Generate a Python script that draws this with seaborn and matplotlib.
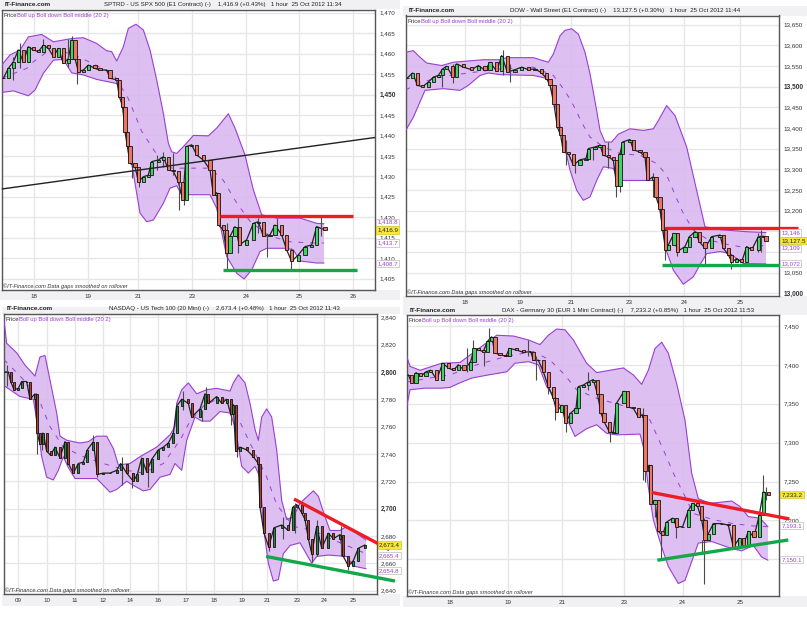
import matplotlib
matplotlib.use("Agg")
import matplotlib.pyplot as plt
from matplotlib.patches import Rectangle
import pandas as pd
import seaborn as sns

# x values are bar positions on each chart's own time axis

# SPX 500
spx_upper_x = [5, 30, 60, 85, 125, 160, 215, 250, 290, 320, 335, 350, 370, 385, 408, 430, 450, 470, 490, 505, 515, 530, 555, 580, 625, 650, 685, 705, 735, 760, 785, 830, 900, 950, 972]
spx_upper = [1457.2, 1459.7, 1460.9, 1464.1, 1464.7, 1462.9, 1463.7, 1463.9, 1462.5, 1460.7, 1460.5, 1458.2, 1461.7, 1466.2, 1467.2, 1465.8, 1460.9, 1453.6, 1445.4, 1438.1, 1436.0, 1435.6, 1437.7, 1440.0, 1439.9, 1441.8, 1445.3, 1441.8, 1435.2, 1426.7, 1420.6, 1419.8, 1419.8, 1418.5, 1418.4]
spx_lower_x = [5, 40, 85, 105, 130, 160, 190, 215, 250, 290, 350, 360, 380, 400, 420, 440, 460, 490, 510, 530, 545, 580, 630, 650, 680, 710, 732, 755, 780, 800, 860, 880, 900, 950, 972]
spx_lower = [1450.5, 1450.9, 1449.7, 1451.1, 1455.2, 1458.4, 1458.6, 1455.3, 1454.8, 1453.7, 1452.7, 1451.1, 1440.5, 1430.7, 1421.0, 1418.9, 1419.3, 1423.4, 1427.1, 1427.7, 1425.5, 1425.5, 1425.5, 1422.2, 1410.4, 1406.3, 1404.9, 1407.1, 1411.6, 1412.4, 1412.4, 1412.0, 1409.3, 1408.8, 1408.8]
spx_mid_x = [5, 80, 100, 150, 215, 280, 340, 385, 425, 465, 515, 580, 630, 670, 710, 750, 805, 870, 935, 972]
spx_mid = [1454, 1456.4, 1458, 1461, 1460, 1457.5, 1455, 1449, 1441, 1436, 1432, 1432, 1432, 1429, 1423.5, 1419, 1415.5, 1414, 1413.7, 1413.7]
spx_bar_x = [10, 25, 40, 55, 70, 85, 100, 115, 130, 145, 160, 175, 190, 205, 215, 225, 235, 250, 265, 285, 300, 320, 330, 350, 358, 368, 375, 382, 390, 405, 415, 430, 445, 455, 475, 490, 505, 520, 535, 548, 560, 575, 590, 610, 630, 640, 650, 655, 670, 680, 690, 705, 718, 740, 760, 775, 790, 810, 825, 845, 860, 875, 895, 915, 935, 950, 975]
spx_close = [1454.0, 1456.4, 1458.0, 1460.9, 1458.0, 1461.7, 1460.9, 1460.5, 1462.1, 1461.3, 1459.3, 1461.3, 1457.6, 1458.8, 1463.3, 1458.8, 1455.6, 1456.0, 1457.2, 1456.4, 1456.0, 1456.0, 1454.0, 1453.6, 1449.5, 1447.0, 1440.9, 1437.3, 1433.2, 1432.4, 1428.7, 1429.9, 1430.3, 1433.6, 1434.0, 1434.8, 1431.6, 1431.2, 1428.7, 1424.2, 1437.3, 1437.7, 1435.2, 1434.0, 1431.6, 1425.5, 1426.0, 1418.1, 1416.9, 1411.2, 1415.3, 1417.7, 1413.2, 1414.5, 1418.5, 1418.9, 1415.3, 1415.7, 1418.1, 1415.7, 1412.0, 1409.2, 1410.8, 1412.8, 1413.2, 1417.7, 1416.9]
spx_wick_x = [38, 60, 130, 205, 215, 232, 355, 362, 395, 418, 470, 490, 518, 538, 552, 680, 715, 775, 800, 830, 873, 963]
spx_wick_hi = [1459.3, 1462.5, 1463.7, 1463.7, 1464.3, 1456.8, 1454, 1450.3, 1434, 1430.7, 1435.2, 1436, 1435.6, 1430.7, 1429.1, 1418.5, 1420.2, 1419.8, 1416.1, 1419.8, 1412.4, 1420]
spx_wick_lo = [1453.6, 1456.4, 1461.7, 1456.8, 1458.8, 1452.7, 1449.9, 1447, 1429.5, 1427.5, 1431.6, 1432.4, 1430.3, 1421.8, 1423, 1407.1, 1411.2, 1416.1, 1410.2, 1416.1, 1407.3, 1415.3]
spx_ticks_y = [1405, 1410, 1415, 1420, 1425, 1430, 1435, 1440, 1445, 1450, 1455, 1460, 1465, 1470]
spx_ticks_x = [103, 263, 415, 577, 738, 898, 1060]
spx_days = ["18", "19", "21", "23", "24", "25", "26"]

# Dow
dow_upper_x = [17, 40, 60, 80, 125, 160, 190, 250, 300, 320, 400, 445, 460, 480, 495, 515, 535, 555, 570, 590, 600, 615, 635, 655, 690, 730, 760, 775, 800, 825, 860, 890, 915, 960, 1040, 1098]
dow_upper = [13583, 13587, 13571, 13557, 13551, 13559, 13561, 13565, 13565, 13570, 13570, 13559, 13579, 13623, 13636, 13640, 13627, 13583, 13531, 13442, 13394, 13366, 13366, 13385, 13398, 13394, 13398, 13418, 13454, 13430, 13354, 13249, 13161, 13154, 13149, 13147]
dow_lower_x = [17, 40, 75, 130, 180, 205, 240, 265, 300, 400, 445, 460, 490, 510, 530, 550, 570, 590, 610, 640, 655, 765, 790, 800, 820, 850, 880, 905, 920, 960, 990, 1030, 1098]
dow_lower = [13394, 13426, 13491, 13495, 13491, 13503, 13527, 13533, 13529, 13527, 13519, 13475, 13370, 13298, 13249, 13225, 13233, 13273, 13306, 13302, 13273, 13273, 13149, 13101, 13056, 13022, 13040, 13076, 13096, 13101, 13096, 13072, 13071]
dow_mid_x = [17, 40, 100, 150, 300, 400, 460, 490, 515, 550, 570, 610, 660, 720, 770, 800, 830, 850, 880, 925, 990, 1050, 1098]
dow_mid = [13491, 13503, 13519, 13527, 13543, 13547, 13527, 13495, 13463, 13406, 13378, 13354, 13338, 13334, 13314, 13286, 13229, 13193, 13153, 13129, 13117, 13109, 13117]
dow_bar_x = [22, 38, 52, 68, 85, 100, 115, 128, 140, 158, 170, 190, 215, 235, 255, 270, 290, 305, 322, 345, 365, 385, 405, 425, 440, 450, 462, 472, 482, 490, 505, 520, 540, 558, 565, 585, 600, 610, 625, 640, 650, 660, 668, 690, 700, 720, 735, 742, 760, 768, 780, 788, 797, 805, 822, 832, 855, 868, 885, 898, 915, 935, 960, 970, 985, 995, 1010, 1025, 1040, 1055, 1075, 1090, 1098]
dow_close = [13521, 13533, 13503, 13500, 13511, 13523, 13527, 13543, 13549, 13524, 13555, 13547, 13541, 13551, 13539, 13559, 13537, 13575, 13535, 13541, 13547, 13541, 13543, 13533, 13519, 13503, 13457, 13402, 13382, 13342, 13338, 13310, 13323, 13326, 13350, 13354, 13358, 13334, 13330, 13322, 13259, 13338, 13366, 13372, 13347, 13342, 13330, 13273, 13282, 13233, 13205, 13153, 13105, 13117, 13145, 13101, 13113, 13137, 13149, 13125, 13109, 13137, 13141, 13109, 13093, 13076, 13084, 13076, 13113, 13105, 13137, 13138, 13127.5]
dow_wick_x = [310, 330, 160, 125, 497, 525, 625, 648, 660, 795, 832, 915, 992, 1083, 1075, 580, 760]
dow_wick_hi = [13589, 13555, 13555, 13543, 13370, 13330, 13366, 13306, 13338, 13161, 13145, 13121, 13096, 13153, 13145, 13354, 13290]
dow_wick_lo = [13527, 13511, 13508, 13500, 13310, 13292, 13302, 13233, 13245, 13080, 13090, 13072, 13060, 13101, 13101, 13322, 13233]
dow_ticks_y = [13000, 13050, 13100, 13150, 13200, 13250, 13300, 13350, 13400, 13450, 13500, 13550, 13600, 13650]
dow_ticks_x = [194, 360, 513, 688, 853, 1020]
dow_days = ["18", "19", "21", "23", "24", "25"]

# Nasdaq
ndq_upper_x = [12, 20, 50, 75, 105, 120, 135, 150, 170, 180, 200, 240, 265, 290, 320, 340, 355, 390, 420, 470, 510, 525, 530, 545, 565, 590, 620, 650, 690, 700, 715, 735, 750, 765, 775, 785, 800, 815, 830, 845, 860, 880, 900, 940, 955, 975, 990, 1020, 1040, 1098]
ndq_upper = [2838, 2821, 2814, 2805, 2797, 2811, 2812, 2794, 2770, 2753, 2750, 2748, 2749, 2753, 2753, 2744, 2732, 2733, 2738, 2745, 2754, 2760, 2777, 2787, 2792, 2784, 2787, 2788, 2786, 2792, 2798, 2792, 2777, 2758, 2750, 2767, 2773, 2767, 2743, 2706, 2692, 2694, 2704, 2713, 2709, 2694, 2684, 2684, 2687, 2677]
ndq_lower_x = [12, 30, 60, 100, 112, 125, 140, 160, 175, 190, 205, 225, 290, 310, 330, 350, 380, 400, 430, 450, 480, 510, 525, 545, 560, 585, 605, 630, 660, 690, 705, 725, 745, 765, 780, 790, 805, 820, 835, 850, 870, 900, 935, 950, 985, 1040, 1060, 1098]
ndq_lower = [2790, 2787, 2782, 2780, 2762, 2738, 2723, 2721, 2728, 2738, 2730, 2722, 2722, 2717, 2712, 2714, 2720, 2717, 2713, 2714, 2723, 2725, 2733, 2728, 2750, 2767, 2764, 2764, 2771, 2770, 2760, 2731, 2726, 2731, 2723, 2687, 2660, 2647, 2648, 2667, 2673, 2675, 2660, 2665, 2666, 2665, 2658, 2656]
ndq_mid_x = [12, 60, 110, 150, 190, 250, 310, 380, 430, 490, 540, 570, 610, 650, 690, 730, 770, 800, 830, 880, 940, 1000, 1050, 1098]
ndq_mid = [2809, 2797, 2784, 2760, 2745, 2738, 2733, 2728, 2726, 2733, 2750, 2764, 2775, 2780, 2780, 2758, 2738, 2723, 2703, 2687, 2684, 2677, 2672, 2667]
ndq_bar_x = [15, 25, 32, 42, 55, 65, 80, 90, 105, 112, 120, 130, 140, 152, 165, 180, 195, 205, 220, 235, 250, 262, 280, 292, 310, 330, 350, 362, 380, 400, 412, 425, 440, 455, 475, 490, 505, 520, 530, 545, 565, 575, 600, 615, 625, 650, 665, 680, 692, 700, 707, 720, 740, 760, 775, 780, 792, 806, 822, 845, 865, 878, 890, 905, 915, 925, 935, 950, 965, 985, 1000, 1020, 1030, 1045, 1060, 1075, 1095]
ndq_close = [2800, 2800, 2793, 2787, 2788, 2793, 2793, 2780, 2784, 2755, 2747, 2755, 2742, 2739, 2745, 2737, 2749, 2733, 2726, 2733, 2734, 2743, 2749, 2725, 2726, 2726, 2728, 2733, 2726, 2720, 2725, 2737, 2727, 2736, 2743, 2745, 2748, 2755, 2775, 2780, 2777, 2767, 2773, 2784, 2777, 2782, 2777, 2780, 2769, 2776, 2742, 2745, 2743, 2738, 2733, 2701, 2682, 2672, 2686, 2688, 2684, 2701, 2703, 2697, 2692, 2678, 2667, 2687, 2671, 2682, 2678, 2681, 2665, 2658, 2662, 2671, 2673.4]
ndq_wick_x = [20, 112, 125, 280, 290, 365, 395, 445, 530, 548, 605, 618, 692, 710, 790, 808, 850, 885, 935, 950, 1022, 1045]
ndq_wick_hi = [2805, 2780, 2756, 2754, 2748, 2738, 2726, 2728, 2777, 2786, 2772, 2789, 2777, 2750, 2699, 2677, 2694, 2704, 2677, 2692, 2687, 2665]
ndq_wick_lo = [2790, 2740, 2743, 2745, 2723, 2717, 2715, 2716, 2755, 2772, 2764, 2773, 2761, 2738, 2682, 2669, 2678, 2682, 2661, 2665, 2665, 2655]
ndq_ticks_y = [2640, 2660, 2680, 2700, 2720, 2740, 2760, 2780, 2800, 2820, 2840]
ndq_ticks_x = [55, 140, 225, 310, 390, 475, 558, 642, 725, 802, 890, 973, 1058]
ndq_days = ["09", "10", "11", "12", "14", "16", "17", "18", "19", "21", "23", "24", "25"]

# DAX
dax_upper_x = [20, 30, 60, 125, 180, 230, 265, 290, 340, 385, 420, 445, 470, 495, 520, 560, 590, 630, 670, 700, 725, 745, 765, 785, 805, 830, 855, 875, 895, 930, 995, 1020, 1045, 1080, 1104]
dax_upper = [7411, 7398, 7393, 7402, 7403, 7419, 7430, 7438, 7437, 7432, 7426, 7438, 7446, 7445, 7432, 7402, 7390, 7393, 7396, 7387, 7375, 7393, 7421, 7429, 7415, 7376, 7329, 7261, 7228, 7222, 7225, 7218, 7205, 7203, 7192]
dax_lower_x = [20, 30, 75, 125, 150, 175, 215, 265, 320, 345, 385, 415, 440, 470, 495, 525, 560, 590, 620, 650, 720, 730, 745, 760, 785, 805, 835, 855, 880, 895, 935, 995, 1025, 1060, 1085, 1104]
dax_lower = [7346, 7368, 7370, 7370, 7371, 7376, 7383, 7387, 7391, 7402, 7404, 7400, 7372, 7355, 7336, 7308, 7318, 7323, 7312, 7310, 7311, 7295, 7243, 7201, 7166, 7141, 7119, 7123, 7153, 7171, 7173, 7164, 7161, 7168, 7153, 7149]
dax_mid_x = [20, 90, 150, 230, 320, 400, 450, 490, 530, 590, 640, 700, 750, 790, 820, 855, 880, 940, 1000, 1060, 1104]
dax_mid = [7378, 7383, 7387, 7400, 7411, 7417, 7406, 7389, 7368, 7357, 7351, 7344, 7329, 7291, 7261, 7231, 7209, 7201, 7196, 7193, 7192]
dax_bar_x = [25, 35, 48, 62, 78, 92, 110, 128, 145, 160, 175, 192, 212, 222, 235, 250, 262, 275, 285, 300, 318, 328, 350, 370, 392, 400, 415, 430, 445, 460, 470, 485, 497, 512, 528, 535, 550, 565, 580, 592, 603, 612, 628, 640, 650, 672, 682, 700, 715, 730, 735, 748, 752, 765, 775, 788, 800, 818, 830, 848, 865, 878, 893, 905, 915, 925, 940, 965, 985, 1000, 1018, 1030, 1045, 1062, 1078, 1090, 1105]
dax_close = [7387, 7377, 7390, 7385, 7391, 7393, 7381, 7402, 7396, 7393, 7400, 7393, 7404, 7421, 7419, 7417, 7430, 7436, 7415, 7413, 7411, 7421, 7419, 7416, 7417, 7406, 7406, 7391, 7372, 7357, 7340, 7348, 7325, 7338, 7344, 7372, 7374, 7378, 7381, 7363, 7338, 7327, 7314, 7313, 7351, 7366, 7346, 7344, 7333, 7336, 7263, 7271, 7221, 7226, 7186, 7181, 7198, 7203, 7192, 7192, 7213, 7222, 7218, 7201, 7175, 7183, 7196, 7196, 7194, 7166, 7177, 7168, 7186, 7179, 7207, 7237, 7233.2]
dax_wick_x = [268, 200, 252, 385, 408, 445, 465, 497, 565, 630, 730, 735, 765, 782, 828, 913, 905, 1090, 1097, 220]
dax_wick_hi = [7447, 7421, 7419, 7432, 7411, 7389, 7359, 7338, 7391, 7325, 7344, 7269, 7226, 7183, 7192, 7203, 7175, 7258, 7243, 7432]
dax_wick_lo = [7426, 7391, 7398, 7411, 7381, 7363, 7329, 7314, 7368, 7301, 7252, 7250, 7205, 7151, 7178, 7119, 7160, 7222, 7226, 7411]
dax_ticks_y = [7150, 7200, 7250, 7300, 7350, 7400, 7450]
dax_ticks_x = [150, 323, 487, 672, 848, 1022]
dax_days = ["18", "19", "21", "23", "24", "25"]

W, H = 807, 635
PURPLE = "#9a3fd0"
BAND = "#dabaf0"

sns.set_style("white")
plt.rcParams["font.family"] = ["Liberation Sans", "DejaVu Sans"]

fig = plt.figure(figsize=(W / 100, H / 100), dpi=100)


def rect(x0, y0, x1, y1):
    return [x0 / W, 1 - y1 / H, (x1 - x0) / W, (y1 - y0) / H]


def strip(x0, y0, x1, y1):
    fig.patches.append(Rectangle((x0 / W, 1 - y1 / H), (x1 - x0) / W, (y1 - y0) / H,
                                 transform=fig.transFigure, color="#f1f1f3", lw=0, zorder=-5))


def draw_panel(box, xlim, ylim, up_x, up, lo_x, lo, mid_x, mid, bar_x, close, wx, whi, wlo,
               ticks_y, ticks_x, days, bold, covered, bar_w, green, red, edge, fmt="{:,}"):
    ax = fig.add_axes(rect(*box))
    ax.fill(up_x + lo_x[::-1], up + lo[::-1], color=BAND, lw=0, alpha=0.92, zorder=2)
    sns.lineplot(x=up_x, y=up, ax=ax, color=PURPLE, lw=0.8, errorbar=None, sort=False, zorder=3)
    sns.lineplot(x=lo_x, y=lo, ax=ax, color=PURPLE, lw=0.8, errorbar=None, sort=False, zorder=3)
    sns.lineplot(x=mid_x, y=mid, ax=ax, color=PURPLE, lw=0.7, errorbar=None, sort=False, zorder=3,
                 linestyle=(0, (5, 7)))

    # candles open where the previous one closed, a thin line keeps them joined up
    df = pd.DataFrame({"x": bar_x, "close": close})
    df["open"] = df["close"].shift(1).fillna(df["close"].iloc[0])
    df["color"] = [green if c >= o else red for c, o in zip(df["close"], df["open"])]
    sns.lineplot(data=df, x="x", y="close", ax=ax, color="#222222", lw=0.9, errorbar=None, sort=False, zorder=4)
    ax.vlines(wx, wlo, whi, color="#4a4a4a", lw=0.8, zorder=4)
    ax.bar(df["x"], df["close"] - df["open"], bottom=df["open"], width=bar_w,
           color=df["color"], edgecolor=edge, linewidth=0.6, zorder=5)

    ax.set_xlim(*xlim)
    ax.set_ylim(*ylim)
    ax.set_xlabel("")
    ax.set_ylabel("")
    ax.set_xticks(ticks_x, days)
    # labels sitting under a price tag are not readable on the chart
    ax.set_yticks(ticks_y, ["" if t in covered else fmt.format(t) for t in ticks_y])
    ax.yaxis.tick_right()
    ax.grid(True, color="#e6e6e6", lw=1)
    ax.set_axisbelow(True)
    ax.tick_params(axis="both", length=0, labelsize=4.5, colors="#333333", pad=3)
    for lab, t in zip(ax.get_yticklabels(), ticks_y):
        if t in bold:
            lab.set_fontweight("bold")
            lab.set_fontsize(4.7)
    for s in ax.spines.values():
        s.set_visible(True)
        s.set_color("#555555")
        s.set_linewidth(1)
    ax.text(0.004, 0.979, "Price", transform=ax.transAxes, fontsize=4.2, color="#333333", va="center")
    ax.text(0.040, 0.979, "Boll up Boll down Boll middle (20 2)", transform=ax.transAxes,
            fontsize=4.2, color=PURPLE, va="center")
    ax.text(0.003, 0.014, "©IT-Finance.com Data gaps smoothed on rollover", transform=ax.transAxes,
            fontsize=4.1, color="#333333", va="center", style="italic")
    return ax


def trend(ax, xs, ys, color, lw=2.4):
    ax.plot(xs, ys, color=color, lw=lw, solid_capstyle="butt", clip_on=False, zorder=6)


def price_tags(ax, values, last, fmt):
    tr = ax.get_yaxis_transform()
    for v in values:
        ax.text(1.006, v, fmt.format(v), transform=tr, fontsize=4.4, color=PURPLE, va="center", zorder=8,
                clip_on=False, bbox=dict(fc="white", ec="#c8c8c8", lw=0.6, pad=0.8))
    ax.text(1.006, last, fmt.format(last), transform=tr, fontsize=4.5, color="#222222", va="center", zorder=9,
            clip_on=False, bbox=dict(fc="#f6e83a", ec="#d8c820", lw=0.5, pad=0.8))


def header(x_brand, x_title, y, title):
    fig.text(x_brand / W, 1 - y / H, "IT-Finance.com", fontsize=4.6, fontweight="bold", color="#222222", va="center")
    fig.text(x_title / W, 1 - y / H, title, fontsize=4.4, fontweight="medium", color="#222222", va="center")


# grey strips behind the titles and the date labels
strip(0, 0, 400, 9)
strip(0, 290, 400, 300)
strip(403, 6, 807, 16)
strip(403, 296, 807, 307)
strip(2, 307, 400, 314)
strip(2, 594, 400, 606)
strip(403, 307, 807, 315)
strip(403, 596, 807, 607)

GREEN, RED = "#3fd45f", "#ee7560"

ax1 = draw_panel((1.7, 9.5, 375, 290), (5, 1125), (1402.2, 1470.8), spx_upper_x, spx_upper, spx_lower_x, spx_lower,
                 spx_mid_x, spx_mid, spx_bar_x, spx_close, spx_wick_x, spx_wick_hi, spx_wick_lo,
                 spx_ticks_y, spx_ticks_x, spx_days, [1450], [], 10, GREEN, RED, "#111111")
trend(ax1, [5, 1125], [1426.9, 1439.5], "#222222", lw=1.0)
trend(ax1, [660, 1058], [1420.2, 1420.2], "#ee1c25")
trend(ax1, [670, 1072], [1407, 1407], "#12a84a")
price_tags(ax1, [1418.8, 1413.7, 1408.7], 1416.9, "{:,.1f}")
header(4.7, 104, 4.7, "SPTRD - US SPX 500 (E1 Contract) (-)    1,416.9 (+0.43%)   1 hour  25 Oct 2012 11:34")

ax2 = draw_panel((405.7, 15.5, 779, 296), (17, 1137), (12993.5, 13672), dow_upper_x, dow_upper, dow_lower_x, dow_lower,
                 dow_mid_x, dow_mid, dow_bar_x, dow_close, dow_wick_x, dow_wick_hi, dow_wick_lo,
                 dow_ticks_y, dow_ticks_x, dow_days, [13500, 13000], [13100, 13150], 10, GREEN, RED, "#111111")
trend(ax2, [795, 1195], [13157, 13157], "#ee1c25")
trend(ax2, [787, 1195], [13068, 13068], "#12a84a")
price_tags(ax2, [13146, 13109, 13072], 13127.5, "{:,.0f}")
ax2.texts[-1].set_text("13,127.5")
header(409, 510, 10.7, "DOW - Wall Street (E1 Contract) (-)    13,127.5 (+0.30%)   1 hour  25 Oct 2012 11:44")

ax3 = draw_panel((4, 314, 376.7, 594.3), (12, 1130), (2637.3, 2842.4), ndq_upper_x, ndq_upper, ndq_lower_x, ndq_lower,
                 ndq_mid_x, ndq_mid, ndq_bar_x, ndq_close, ndq_wick_x, ndq_wick_hi, ndq_wick_lo,
                 ndq_ticks_y, ndq_ticks_x, ndq_days, [2800, 2700], [], 6, "#1f8a3a", "#b5402f", "#111111")
trend(ax3, [882, 1168], [2707, 2670], "#ee1c25")
trend(ax3, [798, 1185], [2665, 2647], "#12a84a")
price_tags(ax3, [2665.4, 2654.8], 2673.4, "{:,.1f}")
header(6.7, 109, 308.7, "NASDAQ - US Tech 100 (20 Mini) (-)    2,673.4 (+0.48%)   1 hour  25 Oct 2012 11:43")

ax4 = draw_panel((406.7, 315, 779.3, 596), (20, 1138), (7103, 7464), dax_upper_x, dax_upper, dax_lower_x, dax_lower,
                 dax_mid_x, dax_mid, dax_bar_x, dax_close, dax_wick_x, dax_wick_hi, dax_wick_lo,
                 dax_ticks_y, dax_ticks_x, dax_days, [], [7150], 10, GREEN, RED, "#111111")
trend(ax4, [755, 1168], [7236, 7202], "#ee1c25")
trend(ax4, [772, 1165], [7149, 7175], "#12a84a")
price_tags(ax4, [7193.1, 7150.1], 7233.2, "{:,.1f}")
header(410, 501.7, 310.7, "DAX - Germany 30 (EUR 1 Mini Contract) (-)    7,233.2 (+0.85%)   1 hour  25 Oct 2012 11:53")

fig.savefig("out.png", dpi=100)
